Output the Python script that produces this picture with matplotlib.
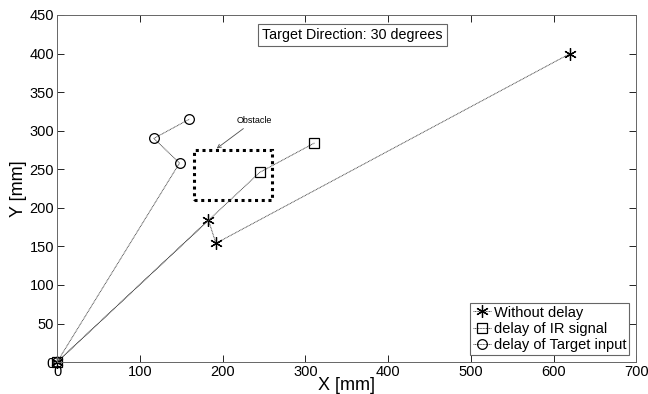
import matplotlib
matplotlib.use('Agg')
import matplotlib.pyplot as plt
from matplotlib.patches import Rectangle

plt.rcParams['font.family'] = ['Liberation Sans', 'DejaVu Sans']

# trajectories [mm]
x_nodelay = [0, 183, 192, 620]
y_nodelay = [0, 184, 154, 400]
x_ir = [0, 245, 311]
y_ir = [0, 246, 284]
x_target = [0, 148, 117, 160]
y_target = [0, 258, 290, 315]

# obstacle box: x0, y0, width, height
obstacle = (165, 210, 95, 65)

fig = plt.figure(figsize=(6.48, 3.94), dpi=100)
ax = fig.add_axes([0.088, 0.081, 0.894, 0.881])

line_kw = dict(color='0.3', linestyle=(0, (1, 0.6)), linewidth=0.7, markeredgecolor='k',
               markerfacecolor='none', markeredgewidth=0.9, clip_on=False)
ax.plot(x_nodelay, y_nodelay, marker=(6, 2, 0), markersize=9, label='Without delay', **line_kw)
ax.plot(x_ir, y_ir, marker='s', markersize=7, label='delay of IR signal', **line_kw)
ax.plot(x_target, y_target, marker='o', markersize=7, label='delay of Target input', **line_kw)

ax.add_patch(Rectangle(obstacle[:2], obstacle[2], obstacle[3], fill=False,
                       linestyle=(0, (1, 1.2)), linewidth=2.2, edgecolor='k'))
ax.annotate('Obstacle', xy=(193, 277), xytext=(217, 310), fontsize=6.5,
            arrowprops=dict(arrowstyle='->', color='0.3', linewidth=0.6, shrinkA=1, shrinkB=0))

ax.text(357, 424, 'Target Direction: 30 degrees', ha='center', va='center', fontsize=10.3,
        bbox=dict(boxstyle='square,pad=0.3', facecolor='white', edgecolor='0.4', linewidth=0.8))

ax.set_xlim(0, 700)
ax.set_ylim(0, 450)
ax.set_xticks(range(0, 701, 100))
ax.set_yticks(range(0, 451, 50))
ax.tick_params(direction='in', top=True, right=True, labelsize=10.5, length=5, width=0.6, pad=2)
for s in ax.spines.values():
    s.set_linewidth(0.7)
    s.set_color('0.4')

ax.set_xlabel('X [mm]', fontsize=13, labelpad=-1)
ax.set_ylabel('Y [mm]', fontsize=13, labelpad=2)

leg = ax.legend(loc='lower right', fontsize=10.5, handlelength=1.2, handletextpad=0.2,
                borderpad=0.2, labelspacing=0.15, borderaxespad=0.5, fancybox=False,
                framealpha=1, edgecolor='0.4')
leg.get_frame().set_linewidth(0.8)

fig.savefig('out.png', dpi=100)
